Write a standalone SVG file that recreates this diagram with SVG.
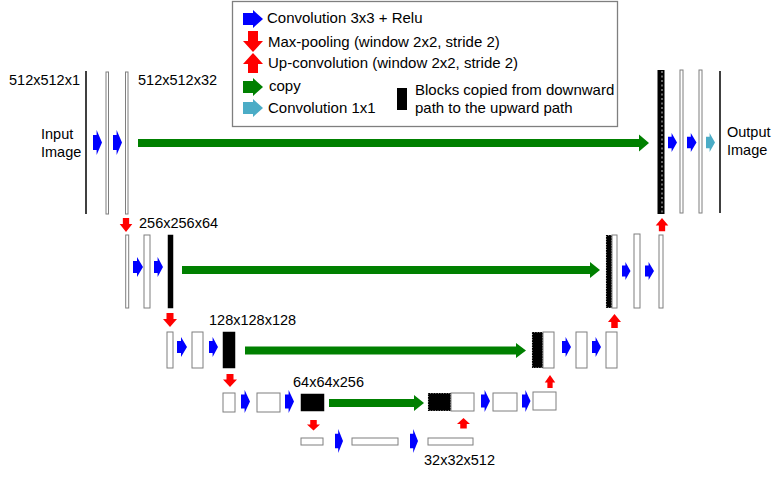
<svg xmlns="http://www.w3.org/2000/svg" width="781" height="479" viewBox="0 0 781 479">
<style>
text{font-family:"Liberation Sans",Arial,sans-serif;font-size:14.5px;fill:#000}
.lg{font-size:15px}
.blk{fill:#fff;stroke:#7f7f7f;stroke-width:1}
.solid{fill:#000;stroke:#000;stroke-width:0.5}
.cp{fill:#000;stroke:#000;stroke-width:1.1;stroke-dasharray:1.6 1}
.ln{stroke:#000;stroke-width:1.5;fill:none}
.b{fill:#0000ff}.r{fill:#ff0000}.g{fill:#008000}.c{fill:#4bacc6}
</style>
<defs>
<path id="ar" d="M0,-6 H4 V-10 L10,0 L4,10 V6 H0 Z"/>
<path id="dn" d="M-3.5,0 H3.5 V6 H7 L0,14 L-7,6 H-3.5 Z"/>
<path id="up" d="M-3.5,14 H3.5 V8 H7 L0,0 L-7,8 H-3.5 Z"/>
</defs>
<rect width="781" height="479" fill="#fff"/>

<g id="legend">
<rect x="232.5" y="1.5" width="385" height="125" fill="#fff" stroke="#7f7f7f" stroke-width="1.3"/>
<path class="b" d="M243,13 H253 V10 L263,19 L253,28 V25 H243 Z"/>
<path class="r" d="M248,31 H258 V41 H263 L253,52 L243,41 H248 Z"/>
<path class="r" d="M253,53 L263,64 H258 V73 H248 V64 H243 Z"/>
<path class="g" d="M243,81 H253 V78 L263,87 L253,96 V93 H243 Z"/>
<path class="c" d="M243,102 H253 V99 L263,108 L253,117 V114 H243 Z"/>
<rect x="397" y="88" width="10" height="22" fill="#000"/>
<text class="lg" x="267" y="23">Convolution 3x3 + Relu</text>
<text class="lg" x="268" y="47">Max-pooling (window 2x2, stride 2)</text>
<text class="lg" x="268" y="67.5">Up-convolution (window 2x2, stride 2)</text>
<text class="lg" x="269" y="91">copy</text>
<text class="lg" x="268" y="113">Convolution 1x1</text>
<text class="lg" x="415" y="95">Blocks copied from downward</text>
<text class="lg" x="415" y="113">path to the upward path</text>
</g>

<g id="level1">
<g id="input"><line class="ln" x1="86" y1="71" x2="86" y2="214"/><text x="41" y="139">Input</text><text x="41" y="157">Image</text><text x="9" y="85">512x512x1</text></g>
<g id="l1a"><rect class="blk" x="106" y="72" width="2.5" height="142"/></g>
<g id="l1b"><rect class="blk" x="125.5" y="72" width="2.5" height="142"/><text x="138" y="85">512x512x32</text></g>
<g id="l1copy"><rect x="657.5" y="70" width="7" height="144" fill="#000"/><line x1="662" y1="71" x2="662" y2="213" stroke="#c8c8c8" stroke-width="1" stroke-dasharray="2 2.5"/></g>
<g id="l1c"><rect class="blk" x="680" y="70" width="3" height="143"/></g>
<g id="l1d"><rect class="blk" x="699" y="70" width="3" height="143"/></g>
<g id="output"><line class="ln" x1="720" y1="71" x2="720" y2="213"/><text x="727" y="137">Output</text><text x="727" y="155">Image</text></g>
</g>

<g id="level2">
<g id="l2a"><rect class="blk" x="125.7" y="235" width="3" height="73"/><text x="139" y="228">256x256x64</text></g>
<g id="l2b"><rect class="blk" x="144" y="235" width="6" height="73"/></g>
<g id="l2c"><rect class="solid" x="168" y="235" width="5" height="73"/></g>
<g id="l2copy"><rect class="cp" x="606.5" y="235.5" width="5" height="72"/><rect class="blk" x="612" y="235" width="5" height="73"/></g>
<g id="l2d"><rect class="blk" x="634" y="234" width="6" height="74"/></g>
<g id="l2e"><rect class="blk" x="659" y="235" width="4" height="73"/></g>
</g>

<g id="level3">
<g id="l3a"><rect class="blk" x="167" y="332" width="6" height="36"/><text x="209" y="325">128x128x128</text></g>
<g id="l3b"><rect class="blk" x="192" y="332" width="11" height="36"/></g>
<g id="l3c"><rect class="solid" x="223" y="332" width="12" height="36"/></g>
<g id="l3copy"><rect class="cp" x="532.5" y="332.5" width="10" height="35"/><rect class="blk" x="543" y="332" width="11" height="36"/></g>
<g id="l3d"><rect class="blk" x="576" y="332" width="11" height="36"/></g>
<g id="l3e"><rect class="blk" x="606" y="332" width="11" height="36"/></g>
</g>

<g id="level4">
<g id="l4a"><rect class="blk" x="223" y="393" width="12" height="19"/></g>
<g id="l4b"><rect class="blk" x="257" y="393" width="23" height="19"/></g>
<g id="l4c"><rect class="solid" x="301" y="394" width="23" height="17"/><text x="293" y="387">64x64x256</text></g>
<g id="l4copy"><rect class="cp" x="428.5" y="393.5" width="22" height="17"/><rect class="blk" x="451" y="393" width="23" height="18"/></g>
<g id="l4d"><rect class="blk" x="493" y="393" width="24" height="18"/></g>
<g id="l4e"><rect class="blk" x="533" y="392" width="23" height="18"/></g>
</g>

<g id="level5">
<g id="l5a"><rect class="blk" x="301" y="438" width="22" height="7"/></g>
<g id="l5b"><rect class="blk" x="352" y="438" width="46" height="7"/></g>
<g id="l5c"><rect class="blk" x="428" y="438" width="45" height="7"/><text x="424" y="465">32x32x512</text></g>
</g>

<g id="connectors">
<path class="g" d="M138,139 H639 V134.5 L649,143 L639,151.5 V147 H138 Z"/>
<path class="g" d="M182,266 H590 V262 L600,270 L590,278 V274 H182 Z"/>
<path class="g" d="M245,346.5 H516 V343 L526,350.5 L516,358 V354.5 H245 Z"/>
<path class="g" d="M329,399 H414 V395 L424,403 L414,411 V407 H329 Z"/>

<use href="#ar" class="b" transform="translate(93,142.5) scale(0.9,1.25)"/>
<use href="#ar" class="b" transform="translate(113,142.5) scale(0.9,1.25)"/>
<use href="#ar" class="b" transform="translate(668,142.5) scale(0.9,0.95)"/>
<use href="#ar" class="b" transform="translate(687,142.5) scale(0.95,0.95)"/>
<use href="#ar" class="c" transform="translate(706,142.5) scale(0.9,0.95)"/>

<use href="#ar" class="b" transform="translate(133,267) scale(1,1)"/>
<use href="#ar" class="b" transform="translate(154,267) scale(0.9,1)"/>
<use href="#ar" class="b" transform="translate(622,271) scale(0.85,0.9)"/>
<use href="#ar" class="b" transform="translate(645,271) scale(0.9,0.9)"/>

<use href="#ar" class="b" transform="translate(177,347) scale(1,1)"/>
<use href="#ar" class="b" transform="translate(209,347) scale(0.9,1)"/>
<use href="#ar" class="b" transform="translate(562,347) scale(0.9,1)"/>
<use href="#ar" class="b" transform="translate(592,347) scale(0.9,1)"/>

<use href="#ar" class="b" transform="translate(241,401.5) scale(0.9,1.15)"/>
<use href="#ar" class="b" transform="translate(285,401.5) scale(0.9,1.15)"/>
<use href="#ar" class="b" transform="translate(481,401) scale(0.9,1.1)"/>
<use href="#ar" class="b" transform="translate(522,401) scale(0.85,1.1)"/>

<use href="#ar" class="b" transform="translate(335,441) scale(0.8,1.2)"/>
<use href="#ar" class="b" transform="translate(410,441) scale(0.8,1.2)"/>

<use href="#dn" class="r" transform="translate(126,218) scale(0.9,1)"/>
<use href="#dn" class="r" transform="translate(170,313) scale(1,1)"/>
<use href="#dn" class="r" transform="translate(230,374) scale(1,0.93)"/>
<use href="#dn" class="r" transform="translate(313.5,420) scale(0.93,0.75)"/>
<use href="#up" class="r" transform="translate(463.5,418) scale(0.93,0.75)"/>
<use href="#up" class="r" transform="translate(550,375) scale(0.75,0.93)"/>
<use href="#up" class="r" transform="translate(614.5,314) scale(0.93,1)"/>
<use href="#up" class="r" transform="translate(662,218) scale(0.9,0.95)"/>
</g>
</svg>
